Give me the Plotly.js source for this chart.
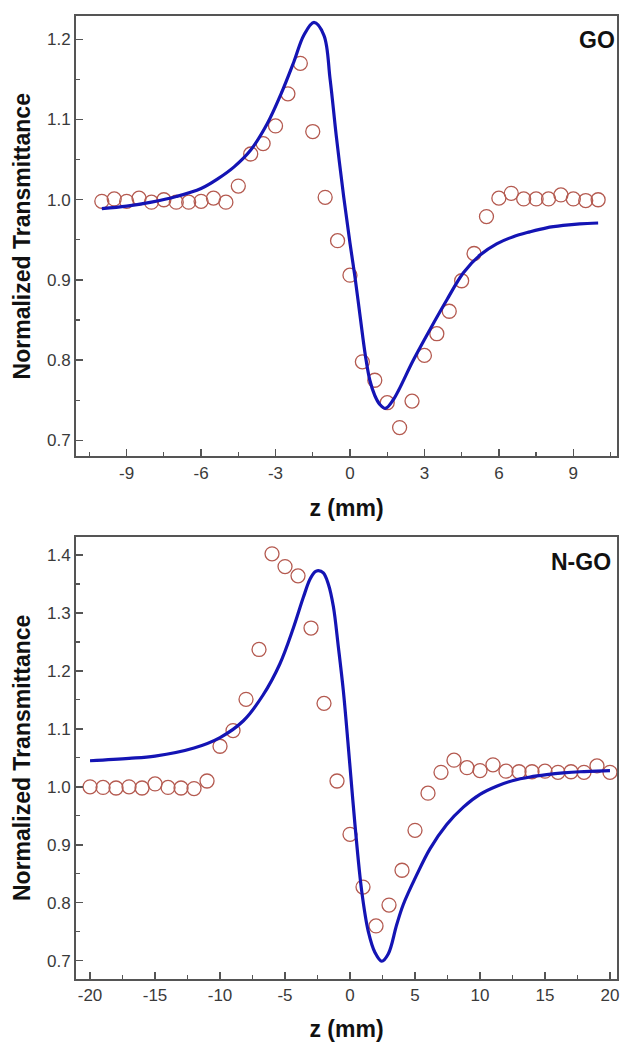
<!DOCTYPE html>
<html>
<head>
<meta charset="utf-8">
<script src="https://cdn.plot.ly/plotly-3.0.1.min.js"></script>
<style>
html,body{margin:0;padding:0;background:#fff;}
#chart{width:621px;height:1042px;}
</style>
</head>
<body>
<div id="chart"></div>
<script>
// ---- GO panel: measured points (z in mm, normalized transmittance)
var goZ = [-10,-9.5,-9,-8.5,-8,-7.5,-7,-6.5,-6,-5.5,-5,-4.5,-4,-3.5,-3,-2.5,-2,-1.5,-1,-0.5,0,0.5,1,1.5,2,2.5,3,3.5,4,4.5,5,5.5,6,6.5,7,7.5,8,8.5,9,9.5,10];
var goT = [0.998,1.001,0.998,1.002,0.997,1.000,0.997,0.997,0.998,1.002,0.997,1.017,1.057,1.070,1.092,1.132,1.170,1.085,1.003,0.949,0.906,0.798,0.775,0.747,0.716,0.749,0.806,0.833,0.861,0.899,0.933,0.979,1.002,1.008,1.001,1.001,1.001,1.006,1.001,0.999,1.000];
// ---- GO panel: fitted curve
var goFitZ = [-10,-9,-8,-7,-6,-5.33,-4.67,-4.0,-3.33,-2.79,-2.26,-1.86,-1.45,-1.05,-0.8,-0.55,-0.25,0,0.2,0.42,0.62,0.8,1.0,1.2,1.43,1.75,2.55,3.22,3.90,4.57,5.24,5.91,6.58,7.25,7.92,8.59,9.26,10];
var goFitT = [0.989,0.992,0.997,1.004,1.014,1.026,1.041,1.062,1.095,1.131,1.172,1.205,1.221,1.205,1.150,1.079,1.003,0.946,0.904,0.852,0.806,0.775,0.756,0.745,0.740,0.751,0.800,0.838,0.875,0.909,0.931,0.945,0.954,0.960,0.965,0.968,0.970,0.971];

// ---- N-GO panel: measured points
var ngoZ = [-20,-19,-18,-17,-16,-15,-14,-13,-12,-11,-10,-9,-8,-7,-6,-5,-4,-3,-2,-1,0,1,2,3,4,5,6,7,8,9,10,11,12,13,14,15,16,17,18,19,20];
var ngoT = [1.000,0.999,0.998,1.000,0.998,1.005,0.999,0.998,0.997,1.010,1.070,1.097,1.151,1.237,1.402,1.380,1.364,1.274,1.144,1.010,0.918,0.827,0.760,0.796,0.856,0.925,0.989,1.025,1.046,1.033,1.028,1.038,1.027,1.026,1.026,1.027,1.025,1.026,1.025,1.036,1.025];
// ---- N-GO panel: fitted curve
var ngoFitZ = [-20,-17,-15,-12,-10,-8.2,-6.7,-5.4,-4.36,-3.59,-3.08,-2.69,-2.44,-2.05,-1.67,-1.28,-0.9,-0.51,-0.13,0.13,0.38,0.9,1.41,1.92,2.44,2.95,3.59,4.1,5.13,6.15,7.44,8.72,10,11.28,12.56,13.85,15.13,16.41,17.69,18.97,20];
var ngoFitT = [1.045,1.049,1.053,1.067,1.085,1.114,1.158,1.212,1.274,1.327,1.358,1.371,1.373,1.369,1.350,1.311,1.242,1.165,1.069,1.000,0.935,0.820,0.750,0.714,0.699,0.712,0.762,0.797,0.848,0.893,0.935,0.965,0.987,1.001,1.011,1.017,1.021,1.024,1.026,1.027,1.028];

// ---- tick labels
var goXTicks = [-9,-6,-3,0,3,6,9];
var goXLabels = ['-9','-6','-3','0','3','6','9'];
var goYTicks = [0.7,0.8,0.9,1.0,1.1,1.2];
var goYLabels = ['0.7','0.8','0.9','1.0','1.1','1.2'];
var ngoXTicks = [-20,-15,-10,-5,0,5,10,15,20];
var ngoXLabels = ['-20','-15','-10','-5','0','5','10','15','20'];
var ngoYTicks = [0.7,0.8,0.9,1.0,1.1,1.2,1.3,1.4];
var ngoYLabels = ['0.7','0.8','0.9','1.0','1.1','1.2','1.3','1.4'];

var markerStyle = {symbol:'circle-open', size:14, color:'#b45a50', line:{width:1.3, color:'#b45a50'}};
var lineStyle = {color:'#1414b4', width:3.2, shape:'spline', smoothing:1};

var traces = [
  {x:goZ, y:goT, xaxis:'x', yaxis:'y', mode:'markers', marker:markerStyle, showlegend:false},
  {x:goFitZ, y:goFitT, xaxis:'x', yaxis:'y', mode:'lines', line:lineStyle, showlegend:false},
  {x:ngoZ, y:ngoT, xaxis:'x2', yaxis:'y2', mode:'markers', marker:markerStyle, showlegend:false},
  {x:ngoFitZ, y:ngoFitT, xaxis:'x2', yaxis:'y2', mode:'lines', line:lineStyle, showlegend:false}
];

var FONT = 'Arial, "Liberation Sans", sans-serif';
var tickFont = {family:FONT, size:17, color:'#3a3a3a'};
var titleFont = {family:FONT, size:23, color:'#111', weight:'bold'};
var axLine = {showline:true, linecolor:'#555', linewidth:2, mirror:true, zeroline:false, showgrid:false,
  ticks:'inside', ticklen:7, tickwidth:1.5, tickcolor:'#555', tickfont:tickFont};

function ax(extra){ return Object.assign({}, axLine, extra); }
function minorOf(d){ return {ticks:'inside', ticklen:4, tickwidth:1.2, tickcolor:'#555', dtick:d, tick0:0}; }

var layout = {
  width:621, height:1042,
  margin:{l:76, r:4, t:16, b:63},
  paper_bgcolor:'#fff', plot_bgcolor:'#fff',
  xaxis: ax({domain:[0,1], anchor:'y', range:[-11.04,10.76], tickvals:goXTicks, ticktext:goXLabels,
    minor:minorOf(1.5), title:{text:'z (mm)', font:titleFont, standoff:18}}),
  yaxis: ax({domain:[0.5426,1], anchor:'x', range:[0.680,1.229], tickvals:goYTicks, ticktext:goYLabels,
    minor:minorOf(0.05), title:{text:'Normalized Transmittance', font:titleFont, standoff:10}}),
  xaxis2: ax({domain:[0,1], anchor:'y2', range:[-21.08,20.54], tickvals:ngoXTicks, ticktext:ngoXLabels,
    minor:minorOf(2.5), title:{text:'z (mm)', font:titleFont, standoff:18}}),
  yaxis2: ax({domain:[0,0.4593], anchor:'x2', range:[0.6684,1.4316], tickvals:ngoYTicks, ticktext:ngoYLabels,
    minor:minorOf(0.05), title:{text:'Normalized Transmittance', font:titleFont, standoff:10}}),
  annotations:[
    {text:'GO', xref:'x domain', yref:'y domain', x:1.0, y:0.9455, xanchor:'right', yanchor:'middle', showarrow:false,
     font:{family:FONT, size:23, color:'#111', weight:'bold'}},
    {text:'N-GO', xref:'x2 domain', yref:'y2 domain', x:0.992, y:0.9435, xanchor:'right', yanchor:'middle', showarrow:false,
     font:{family:FONT, size:23, color:'#111', weight:'bold'}}
  ]
};

Plotly.newPlot('chart', traces, layout, {displayModeBar:false, staticPlot:true});
</script>
</body>
</html>
